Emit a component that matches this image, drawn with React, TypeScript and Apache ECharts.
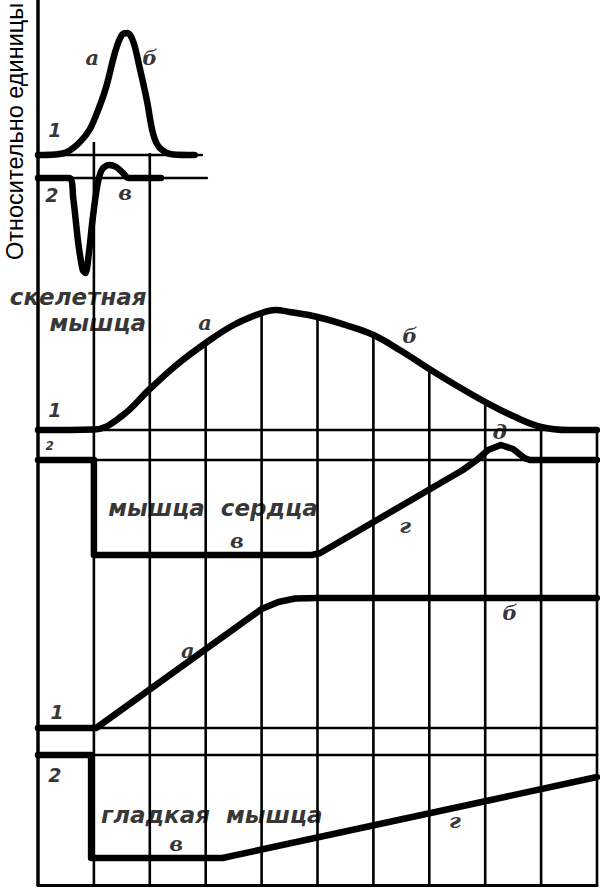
import React, { useEffect, useRef } from "react";
import * as echarts from "echarts";

// ---------- DATA (relative units, 0 = rest level of each trace) ----------
// Skeletal muscle (compressed time scale)
const SKELETAL_CONTRACTION_X = [0, 0.3, 0.52, 0.75, 0.93, 1.11, 1.23, 1.38, 1.5, 1.6, 1.7, 1.82, 1.95, 2.06, 2.18, 2.42, 2.8];
const SKELETAL_CONTRACTION_Y = [0, 0.05, 0.3, 1.3, 2.6, 5.0, 7.0, 10.3, 12.0, 12.2, 11.4, 8.7, 5.4, 2.1, 0.7, 0.05, 0];
const SKELETAL_AP_X = [0, 0.56, 0.63, 0.72, 0.8, 0.85, 0.91, 0.98, 1.06, 1.14, 1.27, 1.4, 1.52, 1.62, 2.2];
const SKELETAL_AP_Y = [0, 0, -2.0, -6.5, -9.2, -9.5, -7.5, -4.0, -0.8, 0.8, 1.3, 1.1, 0.5, 0, 0];

// Cardiac muscle
const CARDIAC_CONTRACTION_X = [0, 1, 1.5, 2, 2.5, 3, 3.5, 4, 4.25, 4.5, 5, 5.5, 6, 6.5, 7, 7.5, 8, 8.5, 9, 9.5, 10];
const CARDIAC_CONTRACTION_Y = [0, 0.05, 1.4, 4.1, 6.6, 8.7, 10.5, 11.7, 12.0, 11.8, 11.3, 10.5, 9.5, 7.9, 6.1, 4.4, 2.8, 1.4, 0.3, 0, 0];
const CARDIAC_AP_X = [0, 1, 1, 4.9, 5.05, 7.6, 7.85, 8.05, 8.28, 8.5, 8.7, 8.8, 10];
const CARDIAC_AP_Y = [0, 0, -9.5, -9.5, -9.3, -1.0, 0, 1.0, 1.5, 1.1, 0.2, 0, 0];

// Smooth muscle
const SMOOTH_CONTRACTION_X = [0, 1.04, 4.0, 4.3, 4.6, 5.0, 10];
const SMOOTH_CONTRACTION_Y = [0, 0, 11.9, 12.6, 12.95, 13.0, 13.0];
const SMOOTH_AP_X = [0, 0.95, 0.95, 3.3, 10];
const SMOOTH_AP_Y = [0, 0, -10.3, -10.3, -2.2];

// Time grid ticks
const TIME_TICKS = [1, 2, 3, 4, 5, 6, 7, 8, 9, 10];

const Y_TITLE = "Относительно единицы";

// ---------- LAYOUT (trace rest levels on the shared vertical scale) ----------
const LEVEL = {
  skContraction: 73.0,
  skAP: 70.7,
  caContraction: 45.5,
  caAP: 42.5,
  smContraction: 15.7,
  smAP: 13.0,
};
const SK_LINE1_END = 2.93;
const SK_LINE2_END = 3.02;
const GRID_TOP_OVERRIDE: Record<number, number> = { 1: 74.3, 2: 73.2 };

type Ann = { t: string; x: number; y: number; k: "letter" | "digit" | "small" | "name" };
const ANNOTATIONS: Ann[] = [
  // skeletal
  { t: "1", x: 0.3, y: 75.5, k: "digit" },
  { t: "а", x: 0.97, y: 82.8, k: "letter" },
  { t: "б", x: 2.0, y: 82.8, k: "letter" },
  { t: "2", x: 0.25, y: 69.0, k: "digit" },
  { t: "в", x: 1.56, y: 69.3, k: "letter" },
  { t: "скелетная", x: 0.72, y: 58.8, k: "name" },
  { t: "мышца", x: 1.07, y: 56.2, k: "name" },
  // cardiac
  { t: "1", x: 0.3, y: 47.5, k: "digit" },
  { t: "2", x: 0.21, y: 43.9, k: "small" },
  { t: "а", x: 2.99, y: 56.3, k: "letter" },
  { t: "б", x: 6.65, y: 55.0, k: "letter" },
  { t: "мышца  сердца", x: 3.13, y: 37.7, k: "name" },
  { t: "в", x: 3.56, y: 34.5, k: "letter" },
  { t: "г", x: 6.57, y: 36.0, k: "letter" },
  { t: "д", x: 8.26, y: 45.4, k: "letter" },
  // smooth
  { t: "1", x: 0.34, y: 17.3, k: "digit" },
  { t: "а", x: 2.68, y: 23.5, k: "letter" },
  { t: "б", x: 8.44, y: 27.3, k: "letter" },
  { t: "2", x: 0.3, y: 11.0, k: "digit" },
  { t: "гладкая  мышца", x: 3.11, y: 7.0, k: "name" },
  { t: "в", x: 2.47, y: 4.2, k: "letter" },
  { t: "г", x: 7.46, y: 6.5, k: "letter" },
];

const zip = (xs: number[], ys: number[], level: number) => xs.map((x, i) => [x, ys[i] + level]);

const THICK = 6.5;
const THIN = 2.6;

function curve(name: string, data: number[][], width: number, smooth: number | boolean = false) {
  return {
    name,
    type: "line",
    data,
    smooth,
    symbol: "none",
    showSymbol: false,
    silent: true,
    clip: false,
    z: width > 4 ? 5 : 3,
    lineStyle: { color: "#000", width, cap: "round", join: "round" },
  };
}

const labelStyles: Record<string, any> = {
  letter: { fontFamily: "DejaVu Serif", fontStyle: "italic", fontWeight: "bold", fontSize: 21 },
  digit: { fontFamily: "DejaVu Sans", fontStyle: "italic", fontWeight: "bold", fontSize: 19 },
  small: { fontFamily: "DejaVu Sans", fontStyle: "italic", fontWeight: "bold", fontSize: 12 },
  name: { fontFamily: "DejaVu Sans", fontStyle: "italic", fontWeight: "bold", fontSize: 23 },
};

export default function App() {
  const ref = useRef<HTMLDivElement>(null);
  useEffect(() => {
    if (!ref.current) return;
    const chart = echarts.init(ref.current, undefined, { renderer: "svg" });

    const gridLines = TIME_TICKS.map((t) => {
      let top: number;
      if (GRID_TOP_OVERRIDE[t] !== undefined) top = GRID_TOP_OVERRIDE[t];
      else {
        const idx = CARDIAC_CONTRACTION_X.indexOf(t);
        top = CARDIAC_CONTRACTION_Y[idx] + LEVEL.caContraction;
      }
      return [t, top];
    });

    const option: any = {
      animation: false,
      backgroundColor: "#fff",
      grid: { left: 38, right: 3, top: 0, bottom: 8, containLabel: false },
      xAxis: {
        type: "value",
        min: 0,
        max: 10,
        interval: 1,
        axisLine: { show: true, onZero: false, lineStyle: { color: "#000", width: 3 } },
        axisTick: { show: false },
        axisLabel: { show: false },
        splitLine: { show: false },
      },
      yAxis: {
        type: "value",
        min: 0,
        max: 88.5,
        axisLine: { show: true, onZero: false, lineStyle: { color: "#000", width: 3.5 } },
        axisTick: { show: false },
        axisLabel: { show: false },
        splitLine: { show: false },
      },
      graphic: [
        {
          type: "text",
          x: 15,
          y: 260,
          rotation: Math.PI / 2,
          style: {
            text: Y_TITLE,
            fontSize: 23.5,
            fontFamily: "Liberation Sans, Arial, sans-serif",
            fill: "#000",
            textAlign: "left",
            textVerticalAlign: "middle",
            align: "left",
            verticalAlign: "middle",
          },
        },
      ],
      series: [
        {
          type: "custom",
          silent: true,
          z: 2,
          data: gridLines,
          renderItem: (_p: any, api: any) => {
            const x = api.value(0);
            const top = api.value(1);
            const a = api.coord([x, top]);
            const b = api.coord([x, 0]);
            return {
              type: "line",
              shape: { x1: a[0], y1: a[1], x2: b[0], y2: b[1] },
              style: { stroke: "#000", lineWidth: THIN },
            };
          },
        },
        // thin rest-level lines
        curve("sk1 base", [[0, LEVEL.skContraction], [SK_LINE1_END, LEVEL.skContraction]], THIN),
        curve("sk2 base", [[0, LEVEL.skAP], [SK_LINE2_END, LEVEL.skAP]], THIN),
        curve("ca1 base", [[0, LEVEL.caContraction], [10, LEVEL.caContraction]], THIN),
        curve("ca2 base", [[0, LEVEL.caAP], [10, LEVEL.caAP]], THIN),
        curve("sm1 base", [[0, LEVEL.smContraction], [10, LEVEL.smContraction]], THIN),
        curve("sm2 base", [[0, LEVEL.smAP], [10, LEVEL.smAP]], THIN),
        // traces
        curve("skeletal contraction", zip(SKELETAL_CONTRACTION_X, SKELETAL_CONTRACTION_Y, LEVEL.skContraction), THICK, 0.35),
        curve("skeletal AP", zip(SKELETAL_AP_X, SKELETAL_AP_Y, LEVEL.skAP), THICK, 0.3),
        curve("cardiac contraction", zip(CARDIAC_CONTRACTION_X, CARDIAC_CONTRACTION_Y, LEVEL.caContraction), THICK, 0.4),
        curve("cardiac AP", zip(CARDIAC_AP_X, CARDIAC_AP_Y, LEVEL.caAP), THICK, false),
        curve("smooth contraction", zip(SMOOTH_CONTRACTION_X, SMOOTH_CONTRACTION_Y, LEVEL.smContraction), THICK, false),
        curve("smooth AP", zip(SMOOTH_AP_X, SMOOTH_AP_Y, LEVEL.smAP), THICK, false),
        {
          type: "scatter",
          silent: true,
          symbolSize: 0,
          z: 10,
          data: ANNOTATIONS.map((a) => ({
            value: [a.x, a.y],
            name: a.t,
            label: {
              show: true,
              position: "inside",
              formatter: a.t,
              color: "#000",
              textBorderWidth: 0,
              textBorderColor: "transparent",
              textShadowBlur: 0,
              ...labelStyles[a.k],
            },
          })),
        },
      ],
    };
    chart.setOption(option);
    return () => chart.dispose();
  }, []);

  return (
    <div
      ref={ref}
      style={{ position: "fixed", left: 0, top: 0, width: 600, height: 893, background: "#fff" }}
    />
  );
}
